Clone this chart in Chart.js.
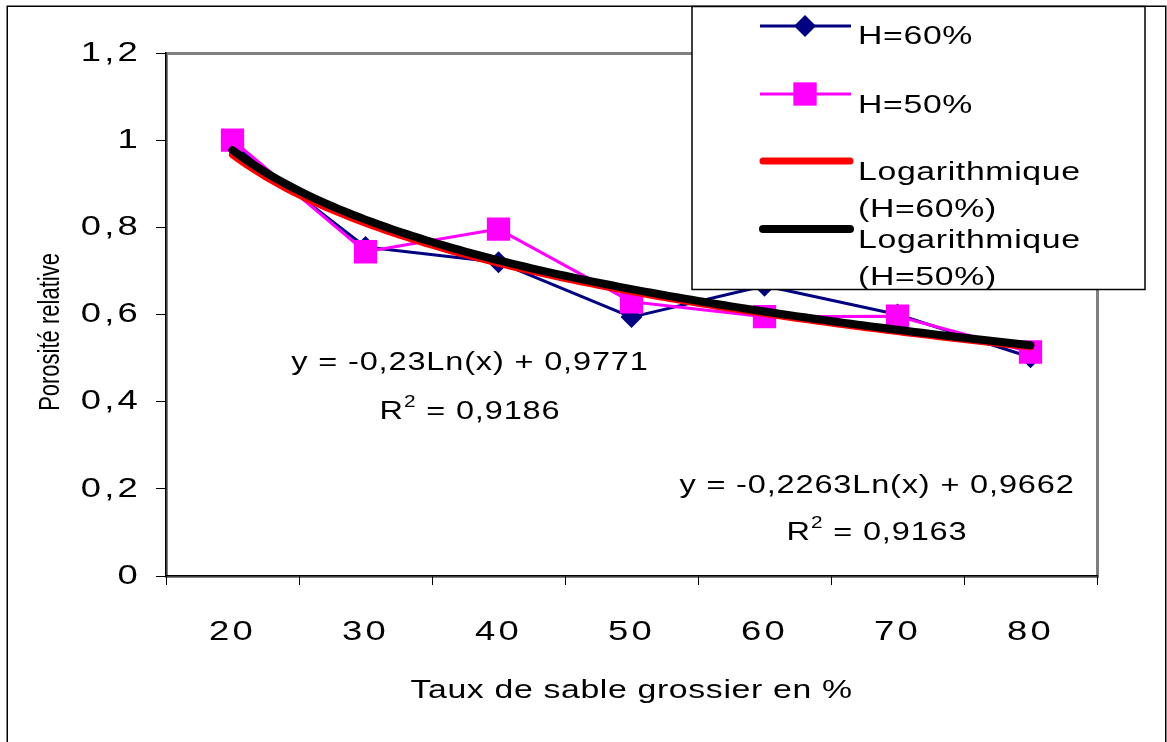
<!DOCTYPE html>
<html><head><meta charset="utf-8">
<script src="https://cdn.jsdelivr.net/npm/chart.js@4/dist/chart.umd.min.js"></script>
<style>html,body{margin:0;padding:0;background:#fff;overflow:hidden}canvas{display:block}</style>
</head><body>
<canvas id="c" width="1167" height="742"></canvas>
<script>
// ---- data ----
const categories = ['20', '30', '40', '50', '60', '70', '80'];
const h60 = [0.99, 0.755, 0.72, 0.594, 0.666, 0.60, 0.502];
const h50 = [1.0, 0.744, 0.796, 0.629, 0.595, 0.596, 0.514];
const yTickLabels = ['0', '0,2', '0,4', '0,6', '0,8', '1', '1,2'];
const seriesLabels = ['H=60%', 'H=50%', 'Logarithmique (H=60%)', 'Logarithmique (H=50%)'];
const fitSlope = [-0.2263, -0.23];          // H=60%, H=50%
const fitIntercept = [0.9662, 0.9771];
const fitEquation = ['y = -0,2263Ln(x) + 0,9662', 'y = -0,23Ln(x) + 0,9771'];
const fitR2 = ['0,9163', '0,9186'];
const xTitle = 'Taux de sable grossier en %';
const yTitle = 'Porosité relative';

// trend line points from the displayed fit equations (x = category index 1..7)
function trend(k) {
  const pts = [];
  for (let i = 0; i <= 120; i++) {
    const t = 1 + i * 6 / 120;
    pts.push({x: t, y: fitSlope[k] * Math.log(t) + fitIntercept[k]});
  }
  return pts;
}

// ---- text rendering: horizontally widened glyphs like the reference ----
const SX = 1.3;
const SPACING = {'28': '2.5px', '26': '0.5px'};
const canvas = document.getElementById('c');
const ctx0 = canvas.getContext('2d');
const fdesc = Object.getOwnPropertyDescriptor(CanvasRenderingContext2D.prototype, 'font');
Object.defineProperty(ctx0, 'font', {
  configurable: true,
  get() { return fdesc.get.call(this); },
  set(v) {
    fdesc.set.call(this, v);
    const m = /([\d.]+)px/.exec(v);
    if ('letterSpacing' in this) this.letterSpacing = (m && SPACING[m[1]]) || '0px';
  }
});
const origFill = CanvasRenderingContext2D.prototype.fillText;
ctx0.fillText = function (text, x, y, maxWidth) {
  const m = this.getTransform();
  const p = m.transformPoint(new DOMPoint(x, y));
  this.save();
  this.setTransform(new DOMMatrix().translate(p.x, p.y).scale(SX, 1).translate(-p.x, -p.y).multiply(m));
  if (maxWidth !== undefined && maxWidth !== null) origFill.call(this, text, x, y, maxWidth);
  else origFill.call(this, text, x, y);
  this.restore();
};

const FAMILY = "'Liberation Sans', Arial, sans-serif";

function setText(ctx, size, spacing) {
  ctx.font = size + 'px ' + FAMILY;
  if ('letterSpacing' in ctx) ctx.letterSpacing = spacing + 'px';
}

const decor = {
  id: 'decor',
  beforeDraw(chart) {
    const {ctx, chartArea: a} = chart;
    ctx.save();
    ctx.fillStyle = '#fff';
    ctx.fillRect(0, 0, chart.width, chart.height);
    ctx.strokeStyle = '#000';
    ctx.lineWidth = 1.5;
    ctx.strokeRect(7.25, 6.25, 1158.5, 760);
    ctx.strokeStyle = '#808080';
    ctx.lineWidth = 3;
    ctx.strokeRect(a.left + 0.5, a.top + 0.5, a.right - a.left, a.bottom - a.top);
    ctx.restore();
  },
  afterDatasetsDraw(chart) {
    const ctx = chart.ctx;
    ctx.save();
    ctx.fillStyle = '#000';
    ctx.textBaseline = 'alphabetic';
    // y axis title (rotated)
    ctx.save();
    setText(ctx, 22, 0);
    ctx.translate(59, 332);
    ctx.rotate(-Math.PI / 2);
    ctx.textAlign = 'center';
    ctx.fillText(yTitle, 0, 0);
    ctx.restore();
    // equations
    const eqPos = [{x: 877, y: 493, r: 540}, {x: 470, y: 370, r: 419}];
    [1, 0].forEach(k => {
      const p = eqPos[k];
      const sp = 0.65;
      setText(ctx, 25, sp);
      ctx.textAlign = 'center';
      ctx.fillText(fitEquation[k], p.x, p.y);
      // R² line
      ctx.textAlign = 'left';
      setText(ctx, 25, sp);
      const wR = ctx.measureText('R').width * SX;
      const rest = ' = ' + fitR2[k];
      const wRest = ctx.measureText(rest).width * SX;
      setText(ctx, 16, sp);
      const w2 = ctx.measureText('2').width * SX;
      const total = wR + w2 + wRest;
      let x = p.x - total / 2;
      setText(ctx, 25, sp);
      ctx.fillText('R', x, p.r);
      x += wR;
      setText(ctx, 16, sp);
      ctx.fillText('2', x, p.r - 12);
      x += w2;
      setText(ctx, 25, sp);
      ctx.fillText(rest, x, p.r);
    });
    // legend box
    const L = {x: 692, y: 6.5, w: 453, h: 283};
    ctx.fillStyle = '#fff';
    ctx.fillRect(L.x, L.y, L.w, L.h);
    ctx.strokeStyle = '#000';
    ctx.lineWidth = 1.5;
    ctx.strokeRect(L.x, L.y, L.w, L.h);
    const ds = chart.data.datasets;
    const find = lbl => ds.find(d => d.label === lbl);
    const items = [
      {d: find(seriesLabels[0]), ly: 26, lines: ['H=60%'], base: [44]},
      {d: find(seriesLabels[1]), ly: 94, lines: ['H=50%'], base: [113]},
      {d: find(seriesLabels[2]), ly: 161, lines: ['Logarithmique', '(H=60%)'], base: [180, 217]},
      {d: find(seriesLabels[3]), ly: 229, lines: ['Logarithmique', '(H=50%)'], base: [248, 285]}
    ];
    items.forEach(it => {
      const d = it.d;
      ctx.save();
      ctx.strokeStyle = d.borderColor;
      ctx.lineWidth = d.borderWidth;
      ctx.lineCap = d.borderCapStyle || 'butt';
      ctx.beginPath();
      const x0 = d.borderCapStyle === 'round' ? 763 : 760;
      const x1 = d.borderCapStyle === 'round' ? 850 : 851;
      ctx.moveTo(x0, it.ly); ctx.lineTo(x1, it.ly);
      ctx.stroke();
      ctx.fillStyle = d.pointBackgroundColor;
      if (d.pointStyle === 'rectRot') {
        const r = d.pointRadius;
        ctx.beginPath();
        ctx.moveTo(805, it.ly - r); ctx.lineTo(805 + r, it.ly); ctx.lineTo(805, it.ly + r); ctx.lineTo(805 - r, it.ly);
        ctx.closePath(); ctx.fill();
      } else if (d.pointStyle === 'rect') {
        const s = d.pointRadius * Math.SQRT1_2;
        ctx.fillRect(805 - s, it.ly - s, 2 * s, 2 * s);
      }
      ctx.restore();
      ctx.fillStyle = '#000';
      ctx.textAlign = 'left';
      setText(ctx, 26, 0.5);
      it.lines.forEach((t, i) => ctx.fillText(t, 858, it.base[i]));
    });
    ctx.restore();
  }
};

Chart.defaults.font.family = FAMILY;
Chart.defaults.color = '#000';

new Chart(ctx0, {
  type: 'line',
  data: {
    labels: categories,
    datasets: [
      {
        label: seriesLabels[0], data: h60, xAxisID: 'x', order: 3,
        borderColor: '#000080', backgroundColor: '#000080', borderWidth: 3,
        pointStyle: 'rectRot', pointRadius: 11, pointBackgroundColor: '#000080',
        pointBorderColor: '#000080', pointBorderWidth: 0, tension: 0, fill: false
      },
      {
        label: seriesLabels[1], data: h50, xAxisID: 'x', order: 2,
        borderColor: '#FF00FF', backgroundColor: '#FF00FF', borderWidth: 3,
        pointStyle: 'rect', pointRadius: 16.5, pointBackgroundColor: '#FF00FF',
        pointBorderColor: '#FF00FF', pointBorderWidth: 0, tension: 0, fill: false
      },
      {
        label: seriesLabels[2], data: trend(0), xAxisID: 'xt', order: 1,
        borderColor: '#FF0000', borderWidth: 7, borderCapStyle: 'round', pointRadius: 0,
        tension: 0, fill: false
      },
      {
        label: seriesLabels[3], data: trend(1), xAxisID: 'xt', order: 0,
        borderColor: '#000000', borderWidth: 8, borderCapStyle: 'round', pointRadius: 0,
        tension: 0, fill: false
      }
    ]
  },
  options: {
    responsive: false,
    animation: false,
    devicePixelRatio: 1,
    layout: {padding: {top: 53, right: 70, left: 0, bottom: 0}},
    plugins: {legend: {display: false}, tooltip: {enabled: false}},
    elements: {line: {borderJoinStyle: 'round'}},
    scales: {
      x: {
        type: 'category', position: 'bottom', offset: true,
        grid: {offset: true, drawOnChartArea: false, drawTicks: true, tickLength: 9, color: '#000', lineWidth: 1},
        border: {display: true, color: '#000', width: 1.5},
        ticks: {font: {size: 28}, color: '#000', padding: 30, maxRotation: 0, autoSkip: false},
        title: {display: true, text: xTitle, font: {size: 26}, color: '#000', padding: {top: 0, bottom: 36}},
        afterFit(s) { s.height = 166; }
      },
      xt: {
        type: 'linear', display: false, min: 0.5, max: 7.5
      },
      y: {
        type: 'linear', position: 'left', min: 0, max: 1.2,
        grid: {drawOnChartArea: false, drawTicks: true, tickLength: 10, color: '#000', lineWidth: 1},
        border: {display: true, color: '#000', width: 1.5},
        ticks: {
          stepSize: 0.2, font: {size: 28}, color: '#000', padding: 15,
          callback: (v, i) => yTickLabels[i]
        },
        title: {display: false, text: yTitle},
        afterFit(s) { s.width = 166; }
      }
    }
  },
  plugins: [decor]
});
</script>
</body></html>
